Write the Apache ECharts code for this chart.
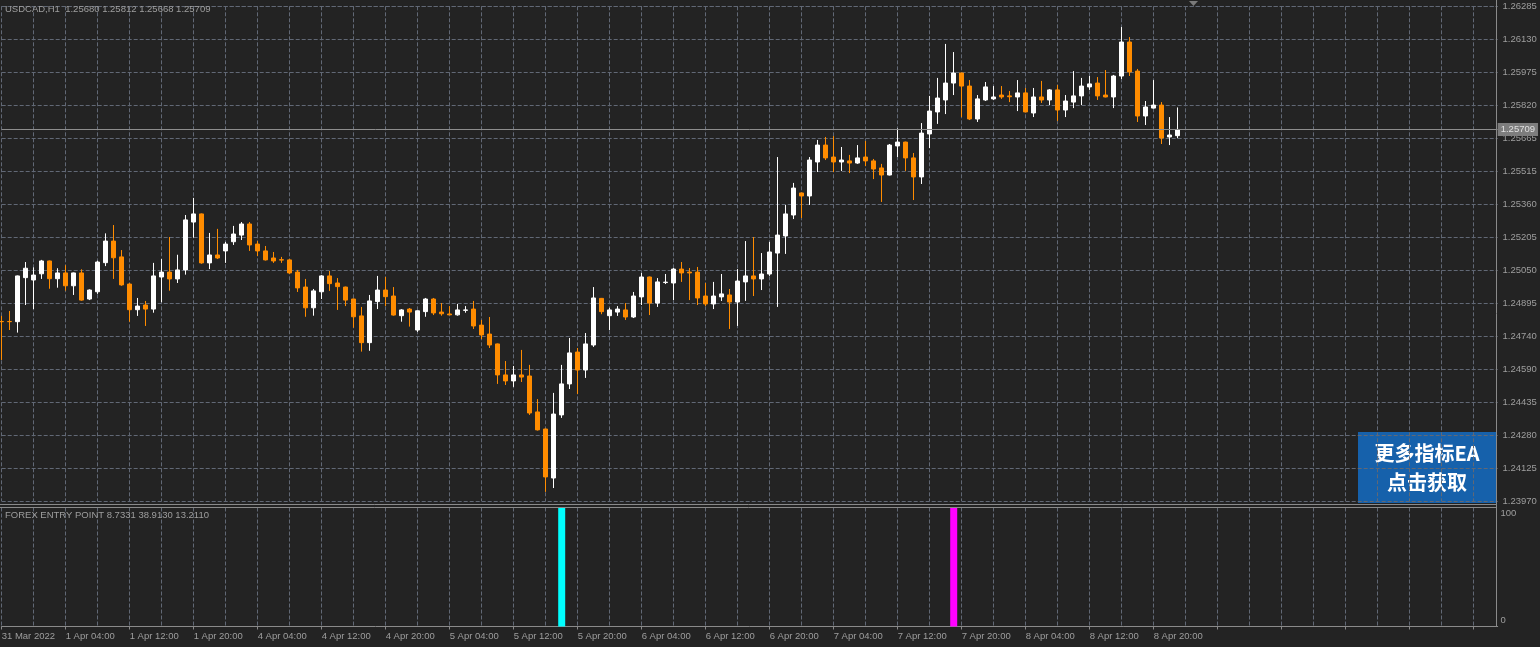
<!DOCTYPE html>
<html>
<head>
<meta charset="utf-8">
<script src="https://cdn.jsdelivr.net/npm/echarts@6/dist/echarts.min.js"></script>
<style>
html,body{margin:0;padding:0;background:#232323;}
#chart{width:1540px;height:647px;}
</style>
</head>
<body>
<div id="chart"></div>
<script>
// ---------------- DATA ----------------
const symbolName = 'USDCAD,H1';
const tradingDays = ['31 Mar','1 Apr','4 Apr','5 Apr','6 Apr','7 Apr','8 Apr'];
const firstHour = 20;

const openPrices = [
1.24811,1.24811,1.24810,1.25016,1.25005,1.25034,1.25094,1.25011,1.25038,1.24978,
1.25038,1.24916,1.24950,1.25086,1.25187,1.25113,1.24986,1.24866,1.24888,1.24869,
1.25019,1.25042,1.25010,1.25052,1.25276,1.25314,1.25085,1.25122,1.25141,1.25184,
1.25215,1.25267,1.25173,1.25141,1.25108,1.25100,1.25099,1.25042,1.24972,1.24875,
1.24950,1.25024,1.24991,1.24972,1.24916,1.24837,1.24712,1.24904,1.24958,1.24930,
1.24838,1.24869,1.24771,1.24857,1.24916,1.24855,1.24846,1.24842,1.24863,1.24869,
1.24794,1.24752,1.24706,1.24561,1.24533,1.24561,1.24556,1.24388,1.24308,1.24079,
1.24374,1.24519,1.24668,1.24584,1.24701,1.24919,1.24838,1.24855,1.24865,1.24832,
1.24926,1.25019,1.24897,1.24993,1.24991,1.25056,1.25042,1.25042,1.24930,1.24893,
1.24926,1.24935,1.24902,1.24996,1.25024,1.25010,1.25033,1.25131,1.25211,1.25309,
1.25412,1.25398,1.25557,1.25636,1.25580,1.25557,1.25562,1.25552,1.25580,1.25562,
1.25529,1.25496,1.25632,1.25650,1.25576,1.25487,1.25688,1.25791,1.25847,1.25926,
1.25973,1.25912,1.25758,1.25847,1.25852,1.25870,1.25866,1.25861,1.25880,1.25786,
1.25861,1.25847,1.25894,1.25800,1.25837,1.25866,1.25908,1.25926,1.25870,1.25861,
1.25959,1.26118,1.25982,1.25772,1.25809,1.25823,1.25674,1.25680];

const highPrices = [
1.24837,1.24860,1.25026,1.25089,1.25064,1.25099,1.25096,1.25060,1.25074,1.25040,
1.25055,1.24961,1.25095,1.25223,1.25262,1.25145,1.24990,1.24921,1.24907,1.25085,
1.25103,1.25206,1.25123,1.25309,1.25389,1.25316,1.25225,1.25244,1.25183,1.25258,
1.25276,1.25276,1.25187,1.25164,1.25136,1.25113,1.25103,1.25052,1.25010,1.24963,
1.25028,1.25047,1.25014,1.24974,1.24918,1.24879,1.24935,1.25024,1.25019,1.24972,
1.24869,1.24874,1.24863,1.24921,1.24921,1.24897,1.24883,1.24893,1.24883,1.24907,
1.24818,1.24832,1.24708,1.24626,1.24603,1.24678,1.24608,1.24448,1.24310,1.24477,
1.24608,1.24734,1.24687,1.24757,1.24972,1.24921,1.24875,1.24883,1.24897,1.24949,
1.25038,1.25021,1.25014,1.25033,1.25061,1.25089,1.25061,1.25066,1.24991,1.24996,
1.25033,1.24963,1.25056,1.25187,1.25206,1.25131,1.25183,1.25580,1.25356,1.25459,
1.25414,1.25580,1.25660,1.25674,1.25678,1.25627,1.25590,1.25636,1.25655,1.25571,
1.25548,1.25641,1.25714,1.25652,1.25599,1.25739,1.25866,1.25950,1.26109,1.26071,
1.25975,1.25940,1.25870,1.25931,1.25912,1.25912,1.25889,1.25940,1.25903,1.25903,
1.25936,1.25898,1.25917,1.25870,1.25982,1.25950,1.25959,1.25954,1.25987,1.25964,
1.26188,1.26141,1.25992,1.25842,1.25940,1.25837,1.25767,1.25812];

const lowPrices = [
1.24631,1.24771,1.24759,1.24888,1.24869,1.25010,1.24964,1.24969,1.24955,1.24935,
1.24908,1.24911,1.24940,1.25070,1.25010,1.24978,1.24810,1.24837,1.24790,1.24852,
1.24901,1.24955,1.24991,1.25030,1.25203,1.25081,1.25056,1.25103,1.25085,1.25169,
1.25192,1.25141,1.25117,1.25096,1.25085,1.25085,1.25033,1.24949,1.24833,1.24838,
1.24916,1.24954,1.24865,1.24883,1.24782,1.24670,1.24674,1.24869,1.24883,1.24838,
1.24810,1.24787,1.24762,1.24833,1.24841,1.24838,1.24841,1.24838,1.24852,1.24776,
1.24729,1.24687,1.24519,1.24514,1.24505,1.24528,1.24374,1.24301,1.24014,1.24032,
1.24360,1.24495,1.24472,1.24547,1.24692,1.24845,1.24771,1.24837,1.24818,1.24827,
1.24888,1.24841,1.24879,1.24986,1.24911,1.24996,1.24911,1.24888,1.24883,1.24869,
1.24907,1.24776,1.24790,1.24907,1.24930,1.24958,1.25024,1.24879,1.25127,1.25290,
1.25295,1.25356,1.25510,1.25566,1.25510,1.25515,1.25505,1.25548,1.25538,1.25477,
1.25370,1.25494,1.25580,1.25515,1.25379,1.25454,1.25622,1.25735,1.25781,1.25870,
1.25767,1.25753,1.25744,1.25842,1.25847,1.25852,1.25837,1.25795,1.25789,1.25767,
1.25833,1.25823,1.25749,1.25767,1.25809,1.25823,1.25894,1.25847,1.25859,1.25809,
1.25945,1.25959,1.25744,1.25730,1.25807,1.25641,1.25636,1.25668];

const closePrices = [
1.24810,1.24810,1.25024,1.25060,1.25028,1.25094,1.25011,1.25038,1.24978,1.25038,
1.24911,1.24958,1.25089,1.25187,1.25109,1.24982,1.24866,1.24883,1.24869,1.25024,
1.25042,1.25010,1.25052,1.25286,1.25314,1.25085,1.25122,1.25108,1.25173,1.25220,
1.25267,1.25169,1.25141,1.25099,1.25094,1.25098,1.25038,1.24968,1.24875,1.24954,
1.25024,1.24988,1.24974,1.24911,1.24833,1.24712,1.24907,1.24958,1.24927,1.24841,
1.24865,1.24855,1.24861,1.24916,1.24851,1.24847,1.24842,1.24865,1.24865,1.24790,
1.24748,1.24701,1.24561,1.24533,1.24561,1.24551,1.24383,1.24304,1.24084,1.24378,
1.24519,1.24664,1.24584,1.24706,1.24921,1.24857,1.24865,1.24869,1.24832,1.24930,
1.25019,1.24897,1.24996,1.24995,1.25056,1.25038,1.25038,1.24921,1.24893,1.24930,
1.24940,1.24902,1.25000,1.25024,1.25010,1.25033,1.25136,1.25215,1.25314,1.25435,
1.25398,1.25566,1.25636,1.25576,1.25557,1.25566,1.25552,1.25576,1.25562,1.25524,
1.25496,1.25636,1.25650,1.25576,1.25487,1.25692,1.25795,1.25856,1.25926,1.25973,
1.25912,1.25758,1.25852,1.25908,1.25861,1.25861,1.25862,1.25880,1.25791,1.25861,
1.25847,1.25894,1.25800,1.25842,1.25866,1.25912,1.25922,1.25866,1.25861,1.25959,
1.26118,1.25978,1.25772,1.25814,1.25823,1.25669,1.25683,1.25709];

// price scale tick labels (right axis)
const priceTickLabels = ['1.23970','1.24125','1.24280','1.24435','1.24590','1.24740','1.24895','1.25050',
  '1.25205','1.25360','1.25515','1.25665','1.25820','1.25975','1.26130','1.26285'];
// time scale tick labels (every 8 bars)
const timeTickLabels = ['31 Mar 2022','1 Apr 04:00','1 Apr 12:00','1 Apr 20:00','4 Apr 04:00','4 Apr 12:00',
  '4 Apr 20:00','5 Apr 04:00','5 Apr 12:00','5 Apr 20:00','6 Apr 04:00','6 Apr 12:00','6 Apr 20:00',
  '7 Apr 04:00','7 Apr 12:00','7 Apr 20:00','8 Apr 04:00','8 Apr 12:00','8 Apr 20:00'];
const timeTickStep = 8;

// indicator: FOREX ENTRY POINT
const indicatorName = 'FOREX ENTRY POINT';
const indicatorValues = ['8.7331','38.9130','13.2110'];
const buySignalTimes = ['5 Apr 18:00'];
const sellSignalTimes = ['7 Apr 19:00'];
const signalLevel = 100;
const indicatorTickLabels = ['0','100'];

// chart shift: empty slots to the right of the last bar
const emptySlots = 40;

// ---------------- BUILD ----------------
const barCount = openPrices.length;
const categories = [];
{
  let d = 0, h = firstHour;
  for (let i = 0; i < barCount; i++) {
    categories.push(tradingDays[d] + ' ' + String(h).padStart(2,'0') + ':00');
    h++; if (h === 24) { h = 0; d++; }
  }
  for (let i = 0; i < emptySlots; i++) categories.push('slot' + i);
}
const candleData = openPrices.map((o, i) => [o, closePrices[i], lowPrices[i], highPrices[i]]);
const buyData = categories.slice(0, barCount).map(c => buySignalTimes.includes(c) ? signalLevel : null);
const sellData = categories.slice(0, barCount).map(c => sellSignalTimes.includes(c) ? signalLevel : null);

const priceMin = parseFloat(priceTickLabels[0]);
const priceMax = parseFloat(priceTickLabels[priceTickLabels.length - 1]);
const priceStep = (priceMax - priceMin) / (priceTickLabels.length - 1);
const last = barCount - 1;
const fmt = v => Number(v).toFixed(5);
const headerText = symbolName + '  ' + [openPrices[last], highPrices[last], lowPrices[last], closePrices[last]].map(fmt).join(' ');
const indicatorText = indicatorName + ' ' + indicatorValues.join(' ');

// ---------------- STYLE ----------------
const BG = '#232323';
const GRID = '#616875';
const TXT = '#9e9e9e';
const AXIS = '#8a8a8a';
const BULL = '#ffffff';
const BEAR = '#ff8c00';
const FONT = 'Liberation Sans, Arial, sans-serif';
const dashed = { color: GRID, type: [4, 2], width: 1 };

const chart = echarts.init(document.getElementById('chart'), null, { renderer: 'canvas' });
const option = {
  backgroundColor: BG,
  animation: false,
  grid: [
    { left: 1.7, width: 1496, top: 6.3, height: 495, outerBoundsMode: 'none', containLabel: false },
    { left: 1.7, width: 1496, top: 507.5, height: 119, outerBoundsMode: 'none', containLabel: false }
  ],
  xAxis: [
    {
      type: 'category', gridIndex: 0, data: categories, boundaryGap: false,
      axisLine: { show: false }, axisTick: { show: false }, axisLabel: { show: false },
      splitLine: { show: true, interval: 3, lineStyle: dashed }
    },
    {
      type: 'category', gridIndex: 1, data: categories, boundaryGap: false,
      axisLine: { show: true, lineStyle: { color: AXIS, width: 1 } },
      axisTick: { show: true, interval: timeTickStep - 1, length: 3, inside: false, lineStyle: { color: AXIS } },
      axisLabel: {
        show: true, interval: timeTickStep - 1, align: 'left', margin: 5,
        color: TXT, fontSize: 9.5, fontFamily: FONT,
        formatter: (v, idx) => (idx % timeTickStep === 0 && timeTickLabels[idx / timeTickStep]) ? timeTickLabels[idx / timeTickStep] : ''
      },
      splitLine: { show: true, interval: 3, lineStyle: dashed }
    }
  ],
  yAxis: [
    {
      type: 'value', gridIndex: 0, position: 'right', offset: -1.2,
      min: priceMin, max: priceMax, interval: priceStep, scale: true,
      axisLine: { show: false }, axisTick: { show: false },
      axisLabel: {
        show: true, margin: 6, color: TXT, fontSize: 9.5, fontFamily: FONT,
        formatter: v => { const k = Math.round((v - priceMin) / priceStep); return priceTickLabels[k] || ''; }
      },
      splitLine: { show: true, lineStyle: dashed }
    },
    {
      type: 'value', gridIndex: 1, position: 'right', offset: -1.2,
      min: 0, max: signalLevel, interval: signalLevel,
      axisLine: { show: false }, axisTick: { show: false },
      axisLabel: {
        show: true, margin: 4, color: TXT, fontSize: 9.5, fontFamily: FONT,
        formatter: v => v === signalLevel ? '{t|' + indicatorTickLabels[1] + '}' : (v === 0 ? '{b|' + indicatorTickLabels[0] + '}' : ''),
        rich: {
          t: { color: TXT, fontSize: 9.5, fontFamily: FONT, padding: [11, 0, 0, 0] },
          b: { color: TXT, fontSize: 9.5, fontFamily: FONT, padding: [0, 0, 13, 0] }
        }
      },
      splitLine: { show: false }
    }
  ],
  series: [
    {
      name: symbolName, type: 'candlestick', xAxisIndex: 0, yAxisIndex: 0,
      data: candleData, barWidth: 4, clip: false,
      itemStyle: { color: BULL, color0: BEAR, borderColor: BULL, borderColor0: BEAR, borderWidth: 1 },
      markLine: {
        silent: true, symbol: ['none', 'none'], precision: 5,
        lineStyle: { color: '#8d8d8d', type: 'solid', width: 1 },
        label: {
          show: true, position: 'end', distance: 0,
          formatter: () => fmt(closePrices[last]),
          color: '#e0e0e0', backgroundColor: '#7d7d7d', padding: [2, 3, 1, 3],
          fontSize: 9.5, fontFamily: FONT
        },
        data: [{ yAxis: closePrices[last] }]
      }
    },
    {
      name: 'Buy', type: 'bar', xAxisIndex: 1, yAxisIndex: 1,
      data: buyData, barWidth: 7, barGap: '-100%',
      itemStyle: { color: '#00ffff' }
    },
    {
      name: 'Sell', type: 'bar', xAxisIndex: 1, yAxisIndex: 1,
      data: sellData, barWidth: 7, barGap: '-100%',
      itemStyle: { color: '#ff00ff' }
    }
  ],
  graphic: [
    { type: 'line', shape: { x1: 0, y1: 504.5, x2: 1497, y2: 504.5 }, style: { stroke: AXIS, lineWidth: 1 }, z: 10 },
    { type: 'line', shape: { x1: 0, y1: 507.5, x2: 1497, y2: 507.5 }, style: { stroke: AXIS, lineWidth: 1 }, z: 10 },
    { type: 'line', shape: { x1: 1496.5, y1: 0, x2: 1496.5, y2: 627 }, style: { stroke: AXIS, lineWidth: 1 }, z: 10 },
    { type: 'polygon', shape: { points: [[1189, 1], [1198, 1], [1193.5, 6]] }, style: { fill: '#7a7a7a' }, z: 10 },
    { type: 'text', left: 5, top: 4, style: { text: headerText, fill: TXT, font: '9.5px ' + FONT }, z: 10 },
    { type: 'text', left: 5, top: 510, style: { text: indicatorText, fill: TXT, font: '9.5px ' + FONT }, z: 10 },
    {
      type: 'group', left: 1358, top: 432, z: 20,
      children: [
        { type: 'rect', shape: { x: 0, y: 0, width: 138, height: 71 }, style: { fill: '#1661ab' } },
        { type: 'text', x: 69, y: 21, style: { text: '更多指标EA', fill: '#ffffff', font: 'bold 20px "Noto Sans CJK SC", sans-serif', align: 'center', verticalAlign: 'middle' } },
        { type: 'text', x: 69, y: 50, style: { text: '点击获取', fill: '#ffffff', font: 'bold 20px "Noto Sans CJK SC", sans-serif', align: 'center', verticalAlign: 'middle' } }
      ]
    }
  ]
};
chart.setOption(option);
</script>
</body>
</html>
